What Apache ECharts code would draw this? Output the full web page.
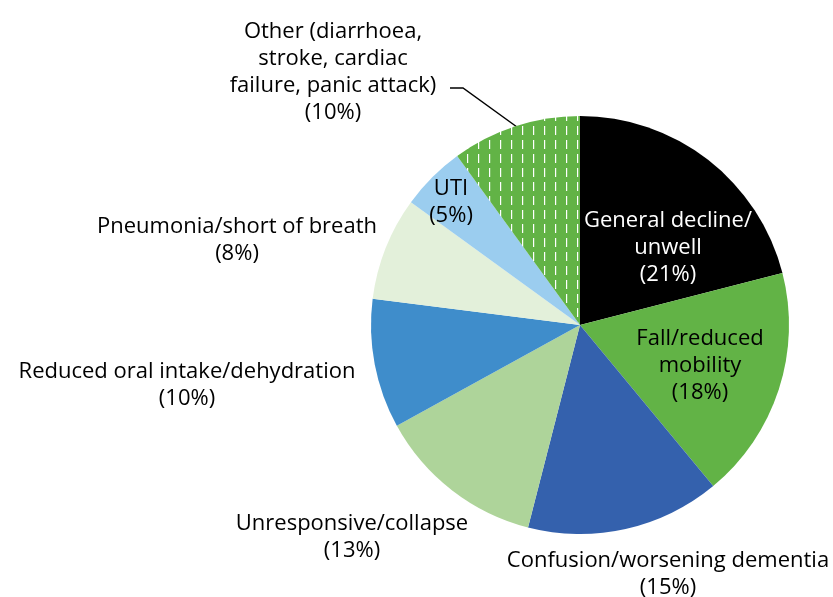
<!DOCTYPE html>
<html>
<head>
<meta charset="utf-8">
<script src="https://cdn.jsdelivr.net/npm/echarts@6/dist/echarts.min.js"></script>
<style>
  html, body { margin: 0; padding: 0; background: #fff; }
  #chart { width: 833px; height: 597px; }
</style>
</head>
<body>
<div id="chart"></div>
<script>
// slices clockwise from 12 o'clock
var categories = [
  'General decline/\nunwell',
  'Fall/reduced\nmobility',
  'Confusion/worsening dementia',
  'Unresponsive/collapse',
  'Reduced oral intake/dehydration',
  'Pneumonia/short of breath',
  'UTI',
  'Other (diarrhoea,\nstroke, cardiac\nfailure, panic attack)'
];
var percents = [21, 18, 15, 13, 10, 8, 5, 10];
var colors = ['#000000', '#62b346', '#3461ad', '#aed49a', '#3f8dcb', '#e3f0da', '#9bcdef', '#62b346'];
var textColors = ['#ffffff', '#000000', '#000000', '#000000', '#000000', '#000000', '#000000', '#000000'];
// label centre positions (px) for each slice
var labelPos = [
  [668, 248], [700, 366], [668, 574], [352, 537],
  [187, 385], [237, 240], [451, 202], [333, 72]
];
// leader line for "Other"
var otherLine = [[517, 127], [463, 88], [450, 88]];

// dashed white vertical lines over green for "Other"
function makePattern() {
  var c = document.createElement('canvas');
  c.width = 11; c.height = 14;
  var ctx = c.getContext('2d');
  ctx.fillStyle = '#62b346';
  ctx.fillRect(0, 0, 11, 14);
  ctx.fillStyle = '#ffffff';
  ctx.fillRect(5, 0, 1.2, 9);
  return c;
}

var chart = echarts.init(document.getElementById('chart'));
var data = categories.map(function (name, i) {
  var item = {
    name: name,
    value: percents[i],
    itemStyle: { color: colors[i] },
    label: { color: textColors[i] },
    labelLine: { show: i === 7 }
  };
  if (i === 7) {
    item.itemStyle.color = { image: makePattern(), repeat: 'repeat' };
  }
  return item;
});

chart.setOption({
  animation: false,
  series: [{
    type: 'pie',
    center: [580, 325],
    radius: 209,
    startAngle: 90,
    clockwise: true,
    data: data,
    label: {
      show: true,
      position: 'outside',
      fontFamily: 'Open Sans',
      fontSize: 22,
      lineHeight: 27,
      align: 'center',
      overflow: 'none',
      formatter: function (p) { return p.name + '\n(' + p.value + '%)'; }
    },
    labelLine: {
      show: false,
      lineStyle: { color: '#000', width: 1.5 },
      length: 10,
      length2: 10
    },
    labelLayout: function (p) {
      var pos = labelPos[p.dataIndex];
      var res = {
        x: pos[0],
        y: pos[1],
        align: 'center',
        verticalAlign: 'middle'
      };
      if (p.dataIndex === 7) res.labelLinePoints = otherLine;
      return res;
    },
    emphasis: { disabled: true }
  }]
});
</script>
</body>
</html>
